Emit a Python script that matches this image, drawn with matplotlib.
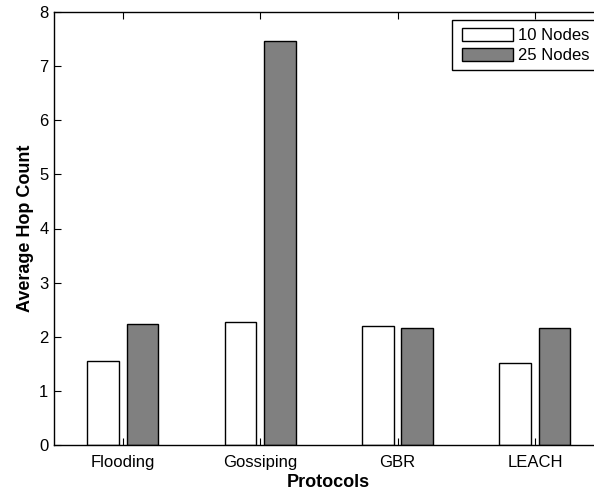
import matplotlib
matplotlib.use("Agg")
import matplotlib.pyplot as plt
from matplotlib.patches import Rectangle
import numpy as np

protocols = ["Flooding", "Gossiping", "GBR", "LEACH"]
nodes10 = [1.56, 2.28, 2.20, 1.52]
nodes25 = [2.24, 7.46, 2.17, 2.17]
series_labels = ["10 Nodes", "25 Nodes"]

plt.rcParams['font.family'] = ['Liberation Sans', 'DejaVu Sans']

W, H = 594, 491
fig = plt.figure(figsize=(W/100, H/100), dpi=100)
ax = fig.add_axes([54/W, 1-445/H, 549.6/W, (445-12)/H])

x = np.arange(1, len(protocols) + 1)
off = 0.143
w = 0.23
ax.bar(x - off, nodes10, width=w, color="white", edgecolor="black", linewidth=1.0, label=series_labels[0])
ax.bar(x + off, nodes25, width=w, color="#808080", edgecolor="black", linewidth=1.0, label=series_labels[1])

ax.set_xlim(0.5, 4.5)
ax.set_ylim(0, 8)
ax.set_xticks(x)
ax.set_xticklabels(protocols, fontsize=12)
ax.set_yticks(range(0, 9))
ax.tick_params(axis='y', labelsize=12, direction='in', length=5, right=True, pad=4)
ax.tick_params(axis='x', direction='in', length=5, top=True, pad=7)
for s in ax.spines.values():
    s.set_linewidth(1.0)

ax.set_xlabel("Protocols", fontsize=13, fontweight='bold', labelpad=3)
ax.set_ylabel("Average Hop Count", fontsize=13, fontweight='bold', labelpad=4)

leg = ax.legend(loc='upper left', bbox_to_anchor=(462/W, 1-28/H), bbox_transform=fig.transFigure,
                fontsize=12, frameon=False,
                handlelength=3.06, handleheight=0.85, borderpad=0, labelspacing=0.28,
                handletextpad=0.3, borderaxespad=0)
leg.set_zorder(6)
frame = Rectangle((452/W, 1-70/H), 160/W, 50/H, transform=fig.transFigure,
                  fill=True, facecolor='white', edgecolor='black', linewidth=1.0,
                  clip_on=False, zorder=5)
ax.add_patch(frame)

fig.savefig("out.png", dpi=100)
